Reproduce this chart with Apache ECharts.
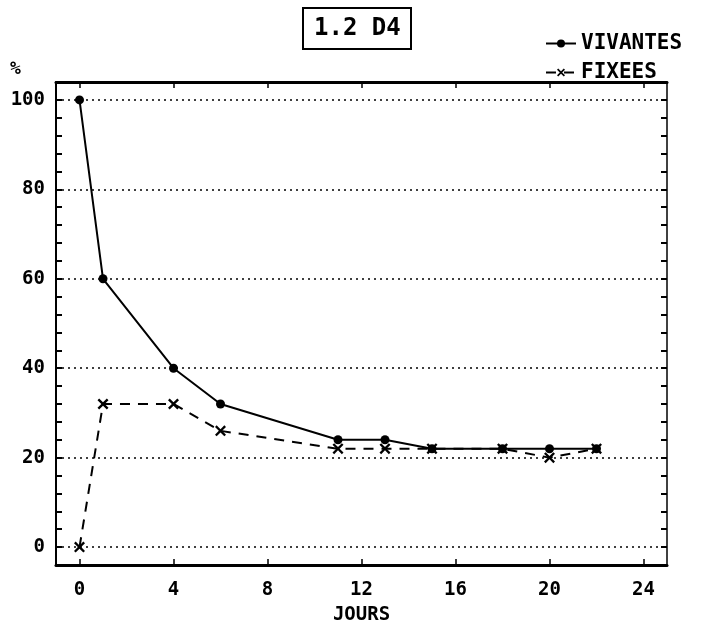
<!DOCTYPE html>
<html>
<head>
<meta charset="utf-8">
<script src="https://cdn.jsdelivr.net/npm/echarts@6/dist/echarts.min.js"></script>
<style>html,body{margin:0;padding:0;background:#fff}#c{width:713px;height:626px}</style>
</head>
<body>
<div id="c"></div>
<script>
const days = [0, 1, 4, 6, 11, 13, 15, 18, 20, 22];
const vivantes = [100, 60, 40, 32, 24, 24, 22, 22, 22, 22];
const fixees = [0, 32, 32, 26, 22, 22, 22, 22, 20, 22];
const xTicks = [0, 4, 8, 12, 16, 20, 24];
const yLabels = [0, 20, 40, 60, 80, 100];
const gridValues = [0, 20, 40, 60, 80, 100];
const titleText = '1.2 D4';
const seriesNames = ['VIVANTES', 'FIXEES'];

const FONT = '"DejaVu Sans Mono", monospace';
const X_PATH = 'path://M0,1.5 L1.5,0 L5,3.5 L8.5,0 L10,1.5 L6.5,5 L10,8.5 L8.5,10 L5,6.5 L1.5,10 L0,8.5 L3.5,5 Z';

const chart = echarts.init(document.getElementById('c'), null, {renderer: 'canvas'});
const pair = (xs, ys) => xs.map((x, i) => [x, ys[i]]);

chart.setOption({
  animation: false,
  backgroundColor: '#fff',
  title: {
    text: titleText,
    left: 303, top: 8,
    borderWidth: 2, borderColor: '#000',
    padding: [9, 11, 8, 11],
    textStyle: {fontFamily: FONT, fontWeight: 'bold', fontSize: 24, color: '#000'}
  },
  legend: {
    orient: 'vertical',
    left: 540, top: 28,
    itemWidth: 30, itemHeight: 10, itemGap: 8,
    data: seriesNames,
    textStyle: {fontFamily: FONT, fontWeight: 'bold', fontSize: 21, color: '#000'}
  },
  graphic: [{
    type: 'text', left: 10, top: 60,
    style: {text: '%', font: 'bold 18px ' + FONT, fill: '#000'}
  }],
  grid: {left: 56, right: 46, top: 82, bottom: 61, outerBoundsMode: 'none', containLabel: false},
  xAxis: [{
    type: 'value', min: -1, max: 25, position: 'bottom',
    axisLine: {show: true, onZero: false, lineStyle: {color: '#000', width: 3}},
    axisTick: {show: true, inside: true, length: 6, customValues: xTicks, lineStyle: {color: '#000', width: 1.5}},
    axisLabel: {customValues: xTicks, margin: 16, fontFamily: FONT, fontWeight: 'bold', fontSize: 19, color: '#000'},
    splitLine: {show: false},
    name: 'JOURS', nameLocation: 'middle', nameGap: 41,
    nameTextStyle: {fontFamily: FONT, fontWeight: 'bold', fontSize: 19, color: '#000'}
  }, {
    type: 'value', min: -1, max: 25, position: 'top',
    axisLine: {show: true, onZero: false, lineStyle: {color: '#000', width: 3}},
    axisTick: {show: true, inside: true, length: 6, customValues: xTicks, lineStyle: {color: '#000', width: 1.5}},
    axisLabel: {show: false},
    splitLine: {show: false}
  }],
  yAxis: [{
    type: 'value', min: -4, max: 104, interval: 4, position: 'left',
    axisLine: {show: true, onZero: false, lineStyle: {color: '#000', width: 2}},
    axisTick: {show: true, inside: true, length: 6, lineStyle: {color: '#000', width: 2}},
    axisLabel: {
      margin: 11, fontFamily: FONT, fontWeight: 'bold', fontSize: 19, color: '#000',
      formatter: v => (yLabels.indexOf(v) >= 0 ? String(v) : '')
    },
    splitLine: {show: false}
  }, {
    type: 'value', min: -4, max: 104, interval: 4, position: 'right',
    axisLine: {show: true, onZero: false, lineStyle: {color: '#000', width: 1.5}},
    axisTick: {show: true, inside: true, length: 6, lineStyle: {color: '#000', width: 2}},
    axisLabel: {show: false},
    splitLine: {show: false}
  }],
  series: [{
    name: seriesNames[0], type: 'line',
    data: pair(days, vivantes),
    symbol: 'circle', symbolSize: 9,
    itemStyle: {color: '#000'},
    lineStyle: {color: '#000', width: 2},
    z: 3,
    markLine: {
      silent: true, symbol: 'none',
      label: {show: false},
      lineStyle: {color: '#000', width: 1.5, type: [2, 4]},
      data: gridValues.map(v => ({yAxis: v}))
    }
  }, {
    name: seriesNames[1], type: 'line',
    data: pair(days, fixees),
    symbol: X_PATH, symbolSize: 11,
    itemStyle: {color: '#000'},
    lineStyle: {color: '#000', width: 2, type: [10, 8]},
    z: 2
  }]
});
</script>
</body>
</html>
